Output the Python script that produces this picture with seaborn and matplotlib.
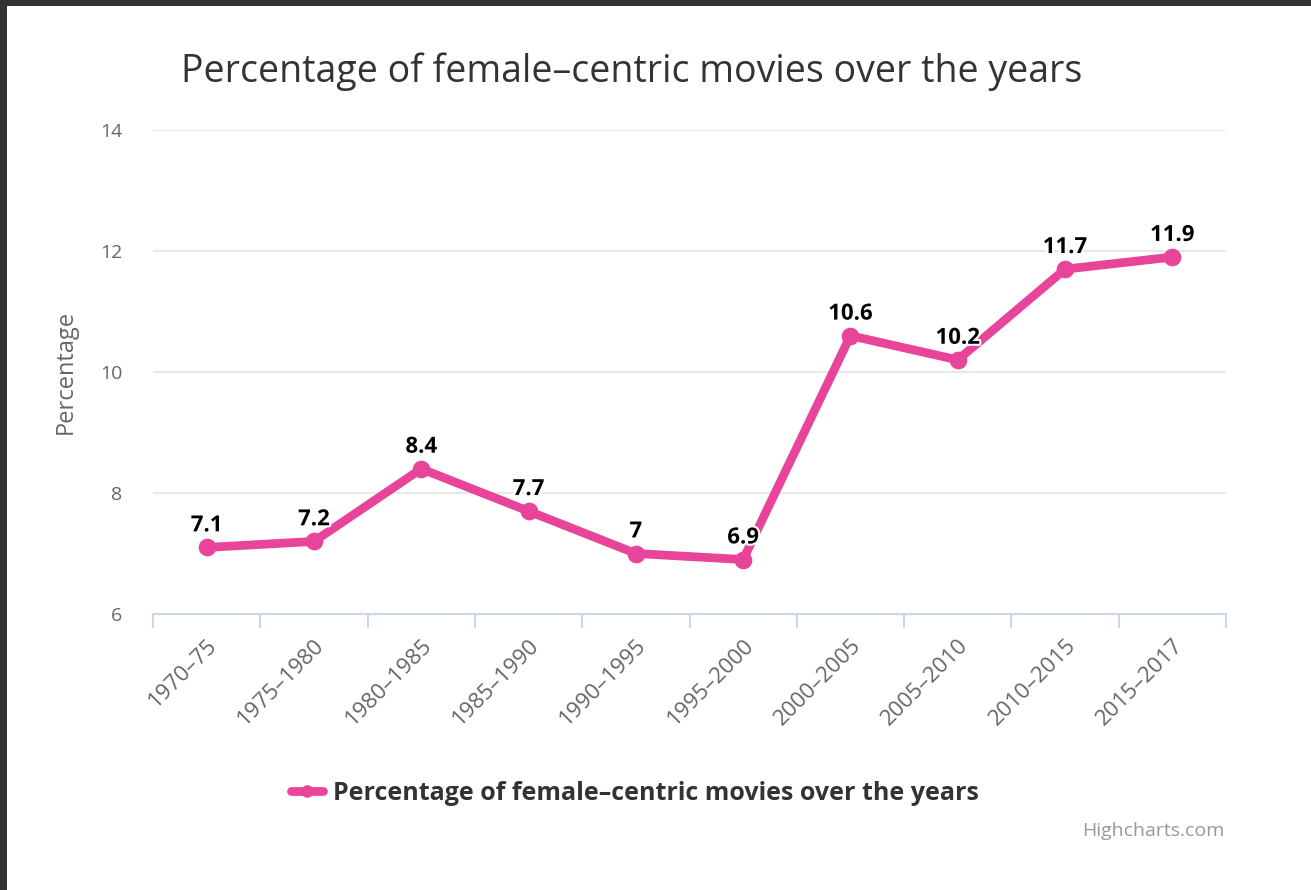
import matplotlib
matplotlib.use("Agg")
import matplotlib.pyplot as plt
import matplotlib.patheffects as pe
from matplotlib.lines import Line2D
from matplotlib.patches import Rectangle
import seaborn as sns
import pandas as pd

periods = ['1970\u201375', '1975\u20131980', '1980\u20131985', '1985\u20131990', '1990\u20131995',
           '1995\u20132000', '2000\u20132005', '2005\u20132010', '2010\u20132015', '2015\u20132017']
pct = [7.1, 7.2, 8.4, 7.7, 7, 6.9, 10.6, 10.2, 11.7, 11.9]
pct_labels = ['7.1', '7.2', '8.4', '7.7', '7', '6.9', '10.6', '10.2', '11.7', '11.9']
yticks = [6, 8, 10, 12, 14]

title = 'Percentage of female\u2013centric movies over the years'
pink = '#e8459a'

df = pd.DataFrame({'period': periods, 'pct': pct})

sns.set_style('white')
plt.rcParams['font.family'] = ['Open Sans', 'DejaVu Sans']

fig = plt.figure(figsize=(13.11, 8.90), dpi=100)
fig.patch.set_facecolor('#333333')
# white page inside the dark screenshot border
fig.patches.append(Rectangle((7/1311, 0), 1, 1 - 6/890, transform=fig.transFigure,
                             facecolor='white', edgecolor='none', zorder=-5))

ax = fig.add_axes([153/1311, 1 - 614/890, (1226 - 153)/1311, (614 - 130)/890])
ax.set_facecolor('none')
ax.set_zorder(2)

sns.pointplot(data=df, x='period', y='pct', color=pink, markers='o',
              linestyles='-', errorbar=None, ax=ax,
              markersize=8, linewidth=6.3)

ax.set_xlim(-0.5, len(periods) - 0.5)
ax.set_ylim(6, 14)
ax.set_yticks(yticks)
ax.set_yticklabels([str(t) for t in yticks], color='#666666', fontsize=14)
ax.grid(True, axis='y', color='#e6e6e6', linewidth=1.3)
ax.grid(False, axis='x')
ax.set_axisbelow(True)

for s in ['top', 'right', 'left']:
    ax.spines[s].set_visible(False)
ax.spines['bottom'].set_color('#ccd6eb')
ax.spines['bottom'].set_linewidth(1.5)

ax.tick_params(axis='y', length=0, pad=22)
ax.tick_params(axis='x', which='major', length=0, pad=15)
ax.set_xticks([i - 0.5 for i in range(len(periods) + 1)], minor=True)
ax.tick_params(axis='x', which='minor', bottom=True, length=10, width=1.5,
               color='#ccd6eb', direction='out')
for lab in ax.get_xticklabels():
    lab.set_rotation(45)
    lab.set_ha('right')
    lab.set_rotation_mode('anchor')
    lab.set_color('#666666')
    lab.set_fontsize(16)

for i, (v, t) in enumerate(zip(pct, pct_labels)):
    ax.annotate(t, (i, v), xytext=(0, 8), textcoords='offset points',
                ha='center', va='bottom', fontsize=16, fontweight='bold',
                color='black',
                path_effects=[pe.withStroke(linewidth=3, foreground='white')])

ax.set_xlabel('')
ax.set_ylabel('Percentage', color='#666666', fontsize=17, labelpad=16)

fig.text(632/1311, 1 - 72/890, title, ha='center', va='center',
         fontsize=27, color='#333333')

handle = Line2D([0], [0], color=pink, linewidth=6.3, marker='o', markersize=8)
fig.legend(handles=[handle], labels=[title], loc='center',
           bbox_to_anchor=(635/1311, 1 - 793/890), frameon=False,
           prop={'size': 18, 'weight': 'bold'}, handlelength=1.3,
           handletextpad=0.4, labelcolor='#333333')

fig.text(1225/1311, 1 - 831/890, 'Highcharts.com', ha='right', va='center',
         fontsize=14, color='#999999')

fig.savefig('out.png', dpi=100, facecolor=fig.get_facecolor())
